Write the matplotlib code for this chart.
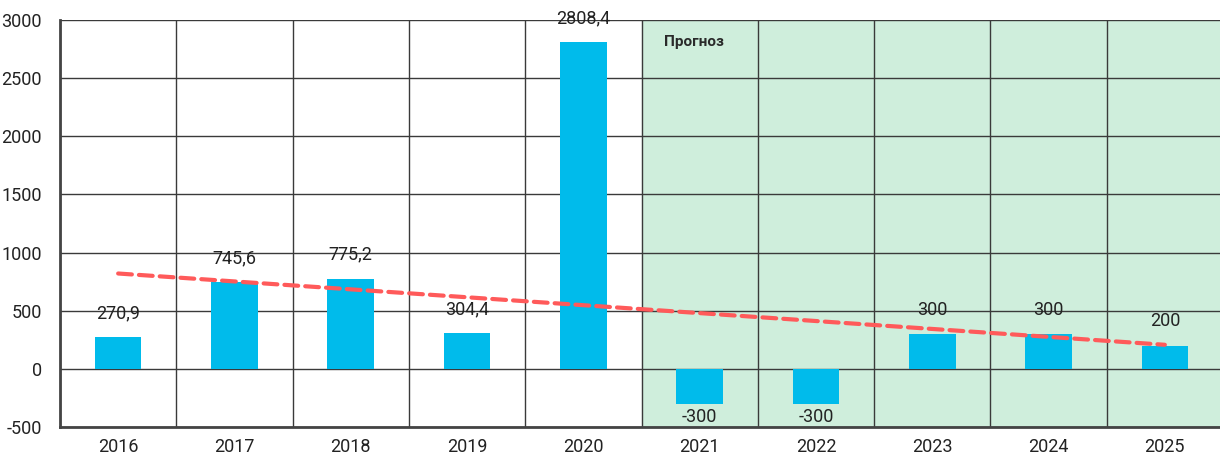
import matplotlib.pyplot as plt
import numpy as np

plt.rcParams['font.family'] = ['Liberation Sans Narrow', 'Roboto', 'DejaVu Sans']

years = ['2016', '2017', '2018', '2019', '2020', '2021', '2022', '2023', '2024', '2025']
values = [270.9, 745.6, 775.2, 304.4, 2808.4, -300, -300, 300, 300, 200]
labels = ['270,9', '745,6', '775,2', '304,4', '2808,4', '-300', '-300', '300', '300', '200']
# trend line end points
trend_years = ['2016', '2025']
trend_values = [820, 207]
forecast_from = '2021'

bar_color = '#00BBEB'
grid_color = '#3a3a3a'

fig = plt.figure(figsize=(12.2, 4.59), dpi=100)
ax = fig.add_axes([60 / 1220, 32 / 459, 1163 / 1220, 407 / 459])

x = np.arange(len(years))
fi = years.index(forecast_from)
ax.axvspan(fi - 0.5, len(years) - 0.5, color='#CFEEDC', zorder=0)

ax.bar(x, values, width=0.4, color=bar_color, zorder=3)

tx = [years.index(t) for t in trend_years]
ax.plot(tx, trend_values, color='#FF5A5A', lw=3, ls=(0, (3.3, 1.7)), zorder=4,
        solid_capstyle='round', dash_capstyle='round')

for xi, v, lab in zip(x, values, labels):
    if v >= 0:
        ax.annotate(lab, (xi, v), xytext=(0, 11), textcoords='offset points',
                    ha='center', va='bottom', fontsize=13, color='#222222', zorder=5)
    else:
        ax.annotate(lab, (xi, v), xytext=(0, -3), textcoords='offset points',
                    ha='center', va='top', fontsize=13, color='#222222', zorder=5)

ax.text(fi - 0.5 + 0.19, 2810, 'Прогноз', fontsize=11, fontweight='bold',
        color='#2a2a2a', ha='left', va='center', family=['Roboto', 'DejaVu Sans'])

ax.set_xlim(-0.5, len(years) - 0.5)
ax.set_ylim(-500, 3000)
ax.set_yticks(np.arange(-500, 3001, 500))
ax.set_yticklabels([str(v) for v in np.arange(-500, 3001, 500)])
ax.set_xticks(x)
ax.set_xticklabels(years)
ax.set_xticks(np.arange(-0.5, len(years), 1), minor=True)

ax.tick_params(axis='both', which='both', length=0, labelsize=13, colors='#222222')
ax.tick_params(axis='y', pad=13)
ax.tick_params(axis='x', pad=8)

ax.grid(True, axis='y', which='major', color=grid_color, lw=1, zorder=1)
ax.grid(True, axis='x', which='minor', color=grid_color, lw=1, zorder=1)
ax.set_axisbelow(True)

for s in ['top', 'right']:
    ax.spines[s].set_visible(False)
for s in ['left', 'bottom']:
    ax.spines[s].set_color('#444444')
    ax.spines[s].set_linewidth(2)

fig.savefig('out.png', dpi=100)
